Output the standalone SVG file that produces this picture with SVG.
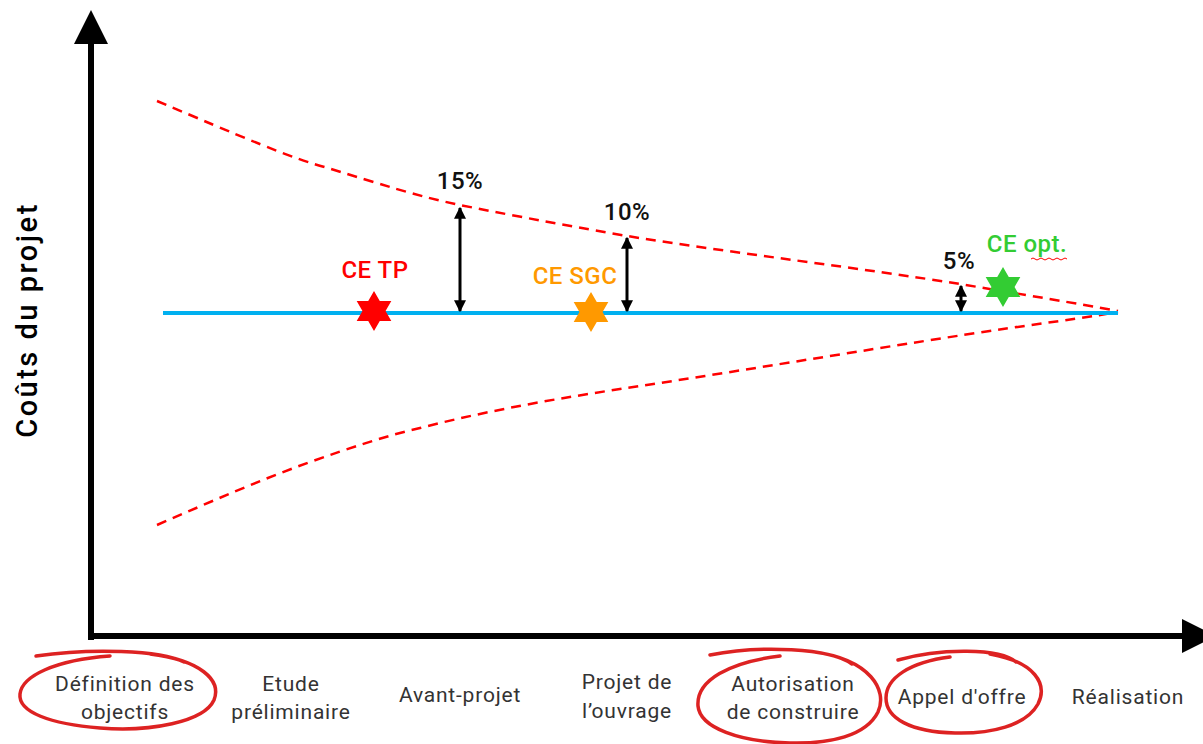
<svg xmlns="http://www.w3.org/2000/svg" width="1203" height="744" viewBox="0 0 1203 744">
<style>
.lbl{font-family:Roboto,"DejaVu Sans",sans-serif;font-size:21px;letter-spacing:0.8px;fill:#333;text-anchor:middle}
.big{font-family:Roboto,"DejaVu Sans",sans-serif;font-size:24px;font-weight:500;letter-spacing:0.5px;text-anchor:middle}
.dash{fill:none;stroke:#ff0000;stroke-width:2.5;stroke-dasharray:10 7}
.circ{fill:none;stroke:#dd2222;stroke-width:3.5;stroke-linecap:round}
.dim{stroke:#000;stroke-width:3;marker-start:url(#ah);marker-end:url(#ah)}
</style>
<defs>
<marker id="ah" viewBox="0 0 10 10" refX="9" refY="5" markerWidth="4" markerHeight="4" orient="auto-start-reverse" markerUnits="strokeWidth">
<path d="M0,0 L10,5 L0,10 Z" fill="#000"/>
</marker>
<path id="star" d="M0,-20 L5.77,-10 L17.32,-10 L11.55,0 L17.32,10 L5.77,10 L0,20 L-5.77,10 L-17.32,10 L-11.55,0 L-17.32,-10 L-5.77,-10 Z"/>
</defs>
<rect width="1203" height="744" fill="#fff"/>
<g id="axes">
<line x1="91" y1="640" x2="91" y2="40" stroke="#000" stroke-width="6"/>
<path d="M74,44 L91,10 L108,44 Z" fill="#000"/>
<line x1="88" y1="636" x2="1184" y2="636" stroke="#000" stroke-width="6"/>
<path d="M1182,619 L1216,636 L1182,653 Z" fill="#000"/>
<text transform="translate(37,320) rotate(-90)" font-family="Roboto,'DejaVu Sans',sans-serif" font-size="29" font-weight="500" letter-spacing="2.5" text-anchor="middle" fill="#000">Coûts du projet</text>
</g>
<g id="connectors">
<path class="dash" d="M157,101 C240,136 290,158 328,168 C380,184 420,197 460,205 C520,217 580,228 627,236 C740,254 860,268 960,284 C1020,294 1080,304 1118,311"/>
<path class="dash" d="M157,525 C210,502 260,480 310,462 C350,448 385,436 420,428 C490,410 560,398 627,388 C760,368 900,344 1010,328 C1060,321 1095,316 1118,312"/>
<line x1="163" y1="313" x2="1118" y2="313" stroke="#00b0f0" stroke-width="4"/>
<line class="dim" x1="460" y1="208" x2="460" y2="311"/>
<line class="dim" x1="627" y1="238" x2="627" y2="311"/>
<line class="dim" x1="961" y1="286" x2="961" y2="311"/>
</g>
<g id="ce-tp">
<use href="#star" x="374" y="311" fill="#ff0000"/>
<text class="big" x="375" y="278" fill="#ff0000">CE TP</text>
</g>
<g id="ce-sgc">
<use href="#star" x="591" y="312" fill="#ff9900"/>
<text class="big" x="575" y="284" fill="#ff9900">CE SGC</text>
</g>
<g id="ce-opt">
<use href="#star" x="1003" y="287" fill="#33cc33"/>
<text class="big" x="1027" y="252" fill="#33cc33">CE opt.</text>
<path d="M1031,259 q2,-2 4,0 t4,0 t4,0 t4,0 t4,0 t4,0 t4,0 t4,0 t4,0" fill="none" stroke="#ff0000" stroke-width="1"/>
</g>
<g id="pct">
<text class="big" x="460" y="189" fill="#111">15%</text>
<text class="big" x="627" y="220" fill="#111">10%</text>
<text class="big" x="959" y="269" fill="#111">5%</text>
</g>
<g id="phase-definition">
<path class="circ" d="M36,656 C90,648 160,650 184,662 M150,654 C200,660 222,680 214,700 C204,722 150,732 100,728 C50,724 18,712 20,694 C22,676 55,660 110,656"/>
<text class="lbl" x="125" y="691">Définition des</text>
<text class="lbl" x="125" y="719">objectifs</text>
</g>
<g id="phase-etude">
<text class="lbl" x="291" y="691">Etude</text>
<text class="lbl" x="291" y="719">préliminaire</text>
</g>
<g id="phase-avant">
<text class="lbl" x="460" y="702">Avant-projet</text>
</g>
<g id="phase-projet">
<text class="lbl" x="627" y="689">Projet de</text>
<text class="lbl" x="627" y="718">l’ouvrage</text>
</g>
<g id="phase-autorisation">
<path class="circ" d="M710,655 C760,645 830,648 852,664 M815,652 C870,660 888,690 878,712 C866,736 830,744 790,743 C740,742 700,728 698,706 C696,680 730,662 780,656"/>
<text class="lbl" x="793" y="691">Autorisation</text>
<text class="lbl" x="793" y="719">de construire</text>
</g>
<g id="phase-appel">
<path class="circ" d="M898,660 C940,648 1000,648 1016,662 M990,654 C1035,662 1048,684 1038,704 C1026,726 990,734 955,733 C910,732 886,718 886,698 C886,678 910,662 950,657"/>
<text class="lbl" x="962" y="704">Appel d'offre</text>
</g>
<g id="phase-realisation">
<text class="lbl" x="1128" y="704">Réalisation</text>
</g>
</svg>
